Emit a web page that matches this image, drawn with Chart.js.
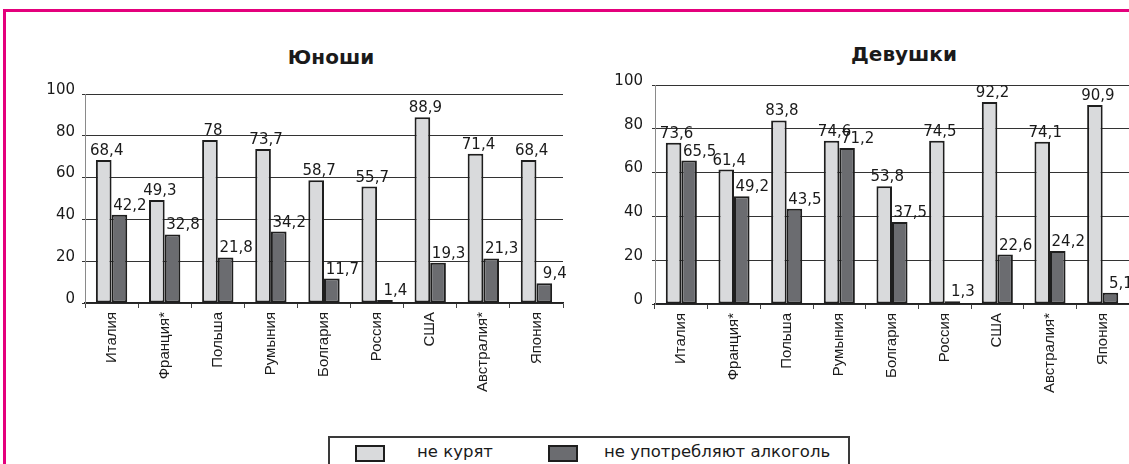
<!DOCTYPE html>
<html lang="ru">
<head>
<meta charset="utf-8">
<title>Юноши / Девушки</title>
<script src="https://cdn.jsdelivr.net/npm/chart.js@4.4.1/dist/chart.umd.min.js"></script>
<style>
  html, body { margin: 0; padding: 0; background: #fff; overflow: hidden; }
  body { width: 1129px; height: 464px; position: relative; font-family: "DejaVu Sans", sans-serif; color: #1a1a1a; }
  .frame { position: absolute; left: 3px; top: 9px; width: 1200px; height: 600px; border: 3px solid #e4007c; box-sizing: border-box; }
  .box { position: absolute; top: 0; height: 430px; }
  .title { position: absolute; font: bold 20px/20px "DejaVu Sans", sans-serif; transform: translateX(-50%); white-space: nowrap; }
  .legend { position: absolute; left: 328px; top: 436px; width: 522px; height: 50px; border: 2px solid #3a3a3a; box-sizing: border-box; }
  .swatch { position: absolute; top: 445px; width: 30px; height: 17px; border: 2px solid #1e1e1e; box-sizing: border-box; }
  .ltext { position: absolute; top: 444px; font: 16.5px/16px "DejaVu Sans", sans-serif; white-space: nowrap; }
</style>
</head>
<body>
<div class="frame"></div>
<div class="title" style="left:331px; top:47px;">Юноши</div>
<div class="title" style="left:904px; top:44px;">Девушки</div>
<div class="box" style="left:0; width:600px;"><canvas id="boys"></canvas></div>
<div class="box" style="left:600px; width:529px;"><canvas id="girls"></canvas></div>
<div class="legend"></div>
<div class="swatch" id="sw0" style="left:355px;"></div>
<div class="ltext" id="lt0" style="left:417px;"></div>
<div class="swatch" id="sw1" style="left:548px;"></div>
<div class="ltext" id="lt1" style="left:604px;"></div>
<script>
const categories = ['Италия', 'Франция*', 'Польша', 'Румыния', 'Болгария', 'Россия', 'США', 'Австралия*', 'Япония'];
const seriesNames = ['не курят', 'не употребляют алкоголь'];
const boysNoSmoke = [68.4, 49.3, 78, 73.7, 58.7, 55.7, 88.9, 71.4, 68.4];
const boysNoAlcohol = [42.2, 32.8, 21.8, 34.2, 11.7, 1.4, 19.3, 21.3, 9.4];
const girlsNoSmoke = [73.6, 61.4, 83.8, 74.6, 53.8, 74.5, 92.2, 74.1, 90.9];
const girlsNoAlcohol = [65.5, 49.2, 43.5, 71.2, 37.5, 1.3, 22.6, 24.2, 5.1];
const yMin = 0, yMax = 100, yStep = 20;

const fills = ['#d9dadc', '#6b6c70'];
const edge = '#1e1e1e';
const labelShift = [3, 10.5];

Chart.defaults.font.family = '"DejaVu Sans", sans-serif';
Chart.defaults.color = '#1a1a1a';

// values above the bars, with a comma as decimal mark
const valueLabels = {
  id: 'valueLabels',
  afterDatasetsDraw(chart) {
    const ctx = chart.ctx;
    ctx.save();
    ctx.font = '15px "DejaVu Sans"';
    ctx.fillStyle = '#1a1a1a';
    ctx.textAlign = 'center';
    ctx.textBaseline = 'alphabetic';
    chart.data.datasets.forEach((ds, i) => {
      chart.getDatasetMeta(i).data.forEach((bar, j) => {
        ctx.fillText(String(ds.data[j]).replace('.', ','), bar.x + labelShift[i], bar.y - 5);
      });
    });
    ctx.restore();
  }
};

function makeChart(id, smoke, alcohol, geo) {
  return new Chart(document.getElementById(id), {
    type: 'bar',
    data: {
      labels: categories,
      datasets: [smoke, alcohol].map((d, i) => ({
        label: seriesNames[i],
        data: d,
        backgroundColor: fills[i],
        borderColor: edge,
        borderWidth: 2,
        borderSkipped: false,
        categoryPercentage: 0.59,
        barPercentage: 1
      }))
    },
    options: {
      responsive: true,
      maintainAspectRatio: false,
      animation: false,
      layout: { padding: { top: geo.top, right: geo.right, left: 0, bottom: 0 } },
      plugins: { legend: { display: false }, tooltip: { enabled: false } },
      scales: {
        x: {
          grid: { drawOnChartArea: false, tickLength: 5, color: '#444' },
          border: { color: '#222', width: 1.5 },
          ticks: {
            autoSkip: false, minRotation: 90, maxRotation: 90, padding: 4,
            font: { family: '"Liberation Sans", sans-serif', size: 15 }
          },
          afterFit: s => { s.height = geo.xh; }
        },
        y: {
          min: yMin, max: yMax,
          grid: { color: '#333', lineWidth: 1, tickLength: 3 },
          border: { color: '#8a8a8a', width: 1 },
          ticks: { stepSize: yStep, padding: geo.tp, labelOffset: -4, font: { size: 15 } },
          afterFit: s => { s.width = geo.yw; }
        }
      }
    },
    plugins: [valueLabels]
  });
}

makeChart('boys', boysNoSmoke, boysNoAlcohol, { top: 94, right: 37, xh: 127, yw: 85, tp: 7 });
makeChart('girls', girlsNoSmoke, girlsNoAlcohol, { top: 85, right: 0, xh: 126, yw: 55, tp: 9 });

seriesNames.forEach((name, i) => {
  document.getElementById('sw' + i).style.background = fills[i];
  document.getElementById('lt' + i).textContent = name;
});
</script>
</body>
</html>
